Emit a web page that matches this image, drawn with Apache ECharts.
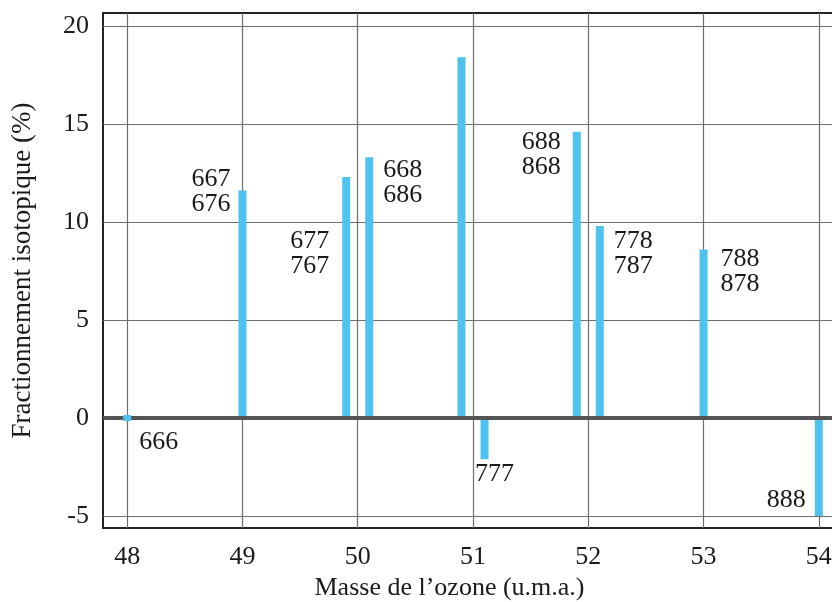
<!DOCTYPE html>
<html>
<head>
<meta charset="utf-8">
<script src="https://cdn.jsdelivr.net/npm/echarts@6/dist/echarts.min.js"></script>
<style>
html,body{margin:0;padding:0;background:#fff;overflow:hidden;}
#c{width:832px;height:602px;}
</style>
</head>
<body>
<div id="c"></div>
<script>
// ---- data ----
const masses = [48, 49, 49.9, 50.1, 50.9, 51.1, 51.9, 52.1, 53, 54];
const fractionation = [0, 11.6, 12.3, 13.3, 18.4, -2.1, 14.6, 9.8, 8.6, -5.0];
const isotopologues = ['666', '667\n676', '677\n767', '668\n686', '', '777', '688\n868', '778\n787', '788\n878', '888'];
const xTicks = [48, 49, 50, 51, 52, 53, 54];
const yTicks = [-5, 0, 5, 10, 15, 20];
const xTitle = 'Masse de l\u2019ozone (u.m.a.)';
const yTitle = 'Fractionnement isotopique (%)';

// ---- label placement (style only) ----
const FONT = 'Liberation Serif';
const TXT = '#1a1a1a';
const labelStyles = [
  null,
  {position: 'top', align: 'right', offset: [-12, 1]},
  {position: 'top', align: 'right', offset: [-17, 77]},
  {position: 'top', align: 'left', offset: [14, 25]},
  null,
  {position: 'bottom', align: 'center', offset: [10, 15]},
  {position: 'top', align: 'right', offset: [-16, 23]},
  {position: 'top', align: 'left', offset: [14, 28]},
  {position: 'top', align: 'left', offset: [17, 22]},
  {position: 'bottom', align: 'right', offset: [-13, -16]}
];

const barData = [];
let refPoint = null;
masses.forEach((m, i) => {
  if (fractionation[i] === 0) {
    refPoint = {value: [m, fractionation[i]], label: {show: true, formatter: isotopologues[i],
      position: 'right', distance: 0, align: 'left', verticalAlign: 'middle', offset: [8, 24],
      color: TXT, fontSize: 26, fontFamily: FONT, textBorderWidth: 0}};
    return;
  }
  const ls = labelStyles[i];
  const item = {value: [m, fractionation[i]]};
  if (ls && isotopologues[i]) {
    item.label = Object.assign({show: true, formatter: isotopologues[i], distance: 0,
      verticalAlign: 'middle'}, ls);
  }
  barData.push(item);
});

const gridLineStyle = {color: '#6e6e6e', width: 1.2, type: 'solid'};
const gridMarks = yTicks.filter(v => v !== 0).map(v => ({yAxis: v}))
  .concat(xTicks.map(v => ({xAxis: v})));

const chart = echarts.init(document.getElementById('c'), null, {renderer: 'canvas'});
chart.setOption({
  animation: false,
  backgroundColor: '#fff',
  textStyle: {fontFamily: FONT},
  grid: {left: 103, top: 13, width: 740, height: 515, show: true,
    borderColor: '#222', borderWidth: 2, backgroundColor: 'transparent',
    containLabel: false, outerBoundsMode: 'none'},
  xAxis: {
    type: 'value', min: 47.79, max: 54.21,
    axisLine: {show: false}, axisTick: {show: false}, splitLine: {show: false},
    axisLabel: {customValues: xTicks, fontSize: 26, color: TXT, fontFamily: FONT, margin: 16},
    name: xTitle, nameLocation: 'middle', nameGap: 46,
    nameTextStyle: {fontSize: 26, color: TXT, fontFamily: FONT, padding: [0, 47, 0, 0]}
  },
  yAxis: {
    type: 'value', min: -5.61, max: 20.66,
    axisLine: {show: false}, axisTick: {show: false}, splitLine: {show: false},
    axisLabel: {customValues: yTicks, fontSize: 26, color: TXT, fontFamily: FONT, margin: 14},
    name: yTitle, nameLocation: 'middle', nameGap: 67, nameRotate: 90,
    nameTextStyle: {fontSize: 27, color: TXT, fontFamily: FONT}
  },
  series: [
    {
      type: 'bar', data: barData, barWidth: 8, z: 2,
      itemStyle: {color: '#4fc3f0'},
      label: {fontSize: 26, lineHeight: 25, color: TXT, fontFamily: FONT},
      markLine: {silent: true, symbol: 'none', z: 1, label: {show: false},
        lineStyle: gridLineStyle, data: gridMarks}
    },
    {
      type: 'scatter', data: [refPoint], symbol: 'rect', symbolSize: [8, 6], z: 10,
      itemStyle: {color: '#4fc3f0', opacity: 1},
      label: {fontSize: 26, lineHeight: 25, color: TXT, fontFamily: FONT},
      markLine: {silent: true, symbol: 'none', z: 5, label: {show: false},
        lineStyle: {color: '#555', width: 4, type: 'solid'}, data: [{yAxis: 0}]}
    }
  ]
});
</script>
</body>
</html>
